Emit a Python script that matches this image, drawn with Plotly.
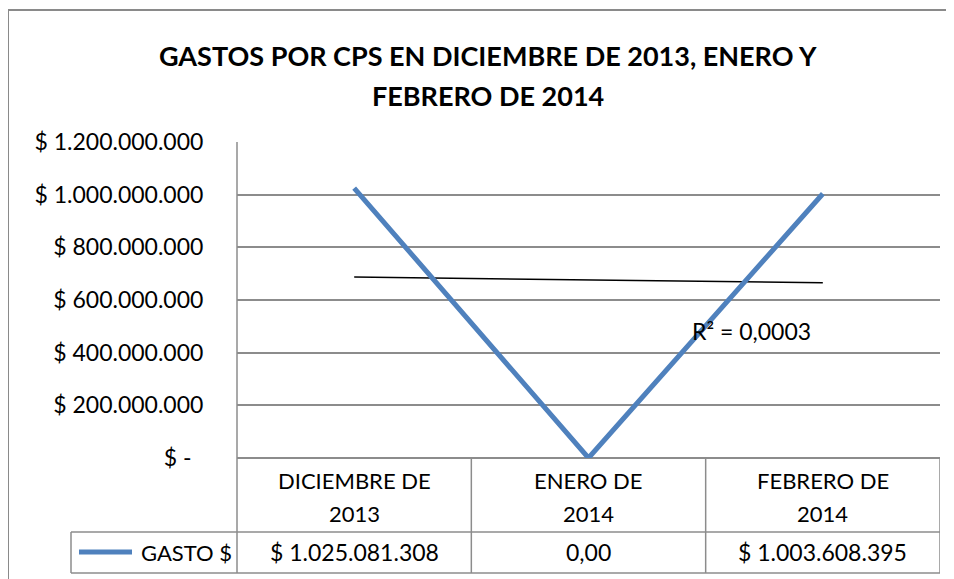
import numpy as np
import plotly.graph_objects as go

# data
categories = ["DICIEMBRE DE 2013", "ENERO DE 2014", "FEBRERO DE 2014"]
gasto = [1025081308, 0, 1003608395]
series_name = "GASTO $"
y_ticks = [0, 200000000, 400000000, 600000000, 800000000, 1000000000, 1200000000]

title_lines = ["GASTOS POR CPS EN DICIEMBRE DE 2013, ENERO Y", "FEBRERO DE 2014"]

FONT = "Lato"
GRID = "#8c8c8c"
BLUE = "#4f81bd"

# the page body has an 8px margin, so the figure starts at (8, 8) on screen
OFF = 8
W, H = 954 - OFF, 579 - OFF
# plot area in screen pixels
L, R, T, B = 237, 940, 142, 458


def px(x):
    return (x - L) / (R - L)


def py(y):
    return (B - y) / (B - T)


def money(v):
    if v == 0:
        return "0,00"
    return "$ " + f"{v:,.0f}".replace(",", ".")


def tick_money(v):
    if v == 0:
        return "$ -\u00a0\u00a0"
    return "$ " + f"{v:,.0f}".replace(",", ".")


xs = np.arange(1, len(gasto) + 1)
slope, intercept = np.polyfit(xs, gasto, 1)
trend = slope * xs + intercept
resid = np.array(gasto) - trend
r2 = 1 - np.sum(resid ** 2) / np.sum((np.array(gasto) - np.mean(gasto)) ** 2)

fig = go.Figure()

fig.add_trace(go.Scatter(
    x=xs, y=trend, mode="lines",
    line=dict(color="black", width=1.5),
    showlegend=False, hoverinfo="skip"
))
fig.add_trace(go.Scatter(
    x=xs, y=gasto, mode="lines", name=series_name,
    line=dict(color=BLUE, width=5),
    showlegend=False
))

shapes = []
annotations = []

# outer chart border
shapes.append(dict(type="rect", xref="paper", yref="paper",
                   x0=px(8), x1=px(965), y0=py(10), y1=py(600),
                   line=dict(color="#8a8a8a", width=2), layer="below"))

# left plot edge, running down through the table
shapes.append(dict(type="line", xref="paper", yref="paper",
                   x0=0, x1=0, y0=py(T), y1=py(573),
                   line=dict(color=GRID, width=1.5)))
# table horizontals
for yy in [532, 573]:
    shapes.append(dict(type="line", xref="paper", yref="paper",
                       x0=px(71), x1=1, y0=py(yy), y1=py(yy),
                       line=dict(color=GRID, width=1.5)))
# column separators
for i in range(len(categories)):
    xb = i + 1.5
    shapes.append(dict(type="line", xref="x", yref="paper",
                       x0=xb, x1=xb, y0=py(B), y1=py(573),
                       line=dict(color=GRID, width=1.5)))
# legend key cell left edge
shapes.append(dict(type="line", xref="paper", yref="paper",
                   x0=px(71), x1=px(71), y0=py(532), y1=py(573),
                   line=dict(color=GRID, width=1.5)))
# legend key line
shapes.append(dict(type="line", xref="paper", yref="paper",
                   x0=px(79), x1=px(132), y0=py(552), y1=py(552),
                   line=dict(color=BLUE, width=5)))

annotations.append(dict(text=series_name, xref="paper", yref="paper",
                        x=px(234), y=py(552), xanchor="right", yanchor="middle",
                        showarrow=False, font=dict(family=FONT, size=22, color="black")))

for i, (cat, v) in enumerate(zip(categories, gasto)):
    words = cat.rsplit(" ", 1)
    for line_txt, yy in zip(words, [480, 513]):
        annotations.append(dict(text=line_txt, xref="x", yref="paper",
                                x=xs[i], y=py(yy), yanchor="middle",
                                showarrow=False,
                                font=dict(family=FONT, size=22, color="black")))
    annotations.append(dict(text=money(v), xref="x", yref="paper",
                            x=xs[i], y=py(552), yanchor="middle",
                            showarrow=False,
                            font=dict(family=FONT, size=23, color="black")))

annotations.append(dict(text="R\u00b2 = " + f"{r2:.4f}".replace(".", ","),
                        xref="paper", yref="paper", x=px(690), y=py(331),
                        xanchor="left", yanchor="middle", showarrow=False,
                        font=dict(family=FONT, size=23, color="black")))

for line_txt, yy in zip(title_lines, [55, 95]):
    annotations.append(dict(text=line_txt, xref="paper", yref="paper",
                            x=px(488), y=py(yy), yanchor="middle", showarrow=False,
                            font=dict(family=FONT, size=27, color="black", weight="bold")))

fig.update_layout(
    width=W, height=H,
    margin=dict(l=L - OFF, r=W + OFF - R, t=T - OFF, b=H + OFF - B),
    paper_bgcolor="white", plot_bgcolor="white",
    xaxis=dict(range=[0.5, len(categories) + 0.5], showticklabels=False,
               showgrid=False, zeroline=False, fixedrange=True),
    yaxis=dict(range=[0, max(y_ticks)], tickvals=y_ticks,
               ticktext=[tick_money(v) for v in y_ticks],
               showgrid=True, gridcolor=GRID, gridwidth=1.5,
               zeroline=True, zerolinecolor=GRID, zerolinewidth=1.5,
               ticks="outside", ticklen=28, tickcolor="rgba(0,0,0,0)",
               tickfont=dict(family=FONT, size=23, color="black")),
    shapes=shapes, annotations=annotations,
    showlegend=False,
)

fig.write_html("out.html")
